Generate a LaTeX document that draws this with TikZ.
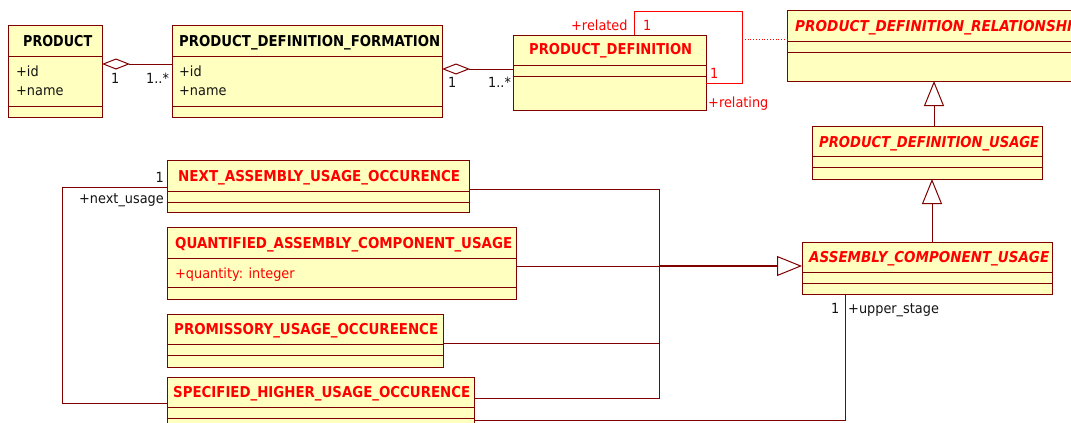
\documentclass[tikz,border=0pt]{standalone}
\usepackage{graphicx}
\usepackage{fontspec}
\setmainfont{DejaVu Sans}
\newfontfamily\umlf[FakeStretch=0.92]{DejaVu Sans}
\usetikzlibrary{arrows.meta}
\definecolor{umlbd}{RGB}{128,0,0}
\definecolor{umlfill}{RGB}{255,255,192}
\definecolor{umlred}{RGB}{255,0,0}
\definecolor{umltxt}{RGB}{20,20,20}
\newcommand\ttlbox[2]{\resizebox{#1}{\height}{#2}}
\newcommand\clsdiv[2]{\draw[divline] ([yshift=-#2 pt]#1.north west) -- ([yshift=-#2 pt]#1.north east);}
\tikzset{
 cls/.style={draw=umlbd, fill=umlfill, line width=1pt, inner sep=0pt, outer sep=0pt, anchor=north west},
 divline/.style={draw=umlbd, line width=0.9pt},
 ln/.style={draw=umlbd, line width=0.9pt},
 ttl/.style={inner sep=0pt, anchor=base west, font=\umlf\fontsize{15}{18}\selectfont\bfseries, text=umlred},
 lbl/.style={inner sep=0pt, anchor=base west, font=\umlf\fontsize{14}{16}\selectfont, text=umltxt},
 agg/.style={ln, {Diamond[open, length=28pt, width=11pt, line width=1pt]}-},
 gen/.style={ln, -{Triangle[open, length=25pt, width=20pt, line width=1pt]}},
 rln/.style={draw=umlred, line width=0.8pt},
}
\begin{document}
\begin{tikzpicture}[x=1pt, y=-1pt]
\useasboundingbox (0,0) rectangle (1071,423);
\clip (0,0) rectangle (1071,423);
\fill[white] (0,0) rectangle (1071,423);

% ---- classes ----
\node[cls, minimum width=94pt, minimum height=92pt] (prod) at (8,25) {};
\clsdiv{prod}{31}\clsdiv{prod}{81}
\node[cls, minimum width=270pt, minimum height=92pt] (pdf) at (172,25) {};
\clsdiv{pdf}{31}\clsdiv{pdf}{81}
\node[cls, minimum width=193pt, minimum height=75pt] (pd) at (513,35) {};
\clsdiv{pd}{30}\clsdiv{pd}{41}
\node[cls, minimum width=300pt, minimum height=71pt] (pdr) at (787,10) {};
\clsdiv{pdr}{31}\clsdiv{pdr}{42}
\node[cls, minimum width=230pt, minimum height=53pt] (pdu) at (812,126) {};
\clsdiv{pdu}{30}\clsdiv{pdu}{41}
\node[cls, minimum width=250pt, minimum height=52pt] (acu) at (802,242) {};
\clsdiv{acu}{30}\clsdiv{acu}{41}
\node[cls, minimum width=302pt, minimum height=52pt] (nauo) at (167,160) {};
\clsdiv{nauo}{31}\clsdiv{nauo}{42}
\node[cls, minimum width=349pt, minimum height=72pt] (qacu) at (167,227) {};
\clsdiv{qacu}{31}\clsdiv{qacu}{60}
\node[cls, minimum width=276pt, minimum height=53pt] (puo) at (167,314) {};
\clsdiv{puo}{30}\clsdiv{puo}{41}
\node[cls, minimum width=307pt, minimum height=60pt] (shuo) at (167,377) {};
\clsdiv{shuo}{30}\clsdiv{shuo}{41}

% ---- titles ----
\node[ttl, text=black] (prodT) at (23,46) {\ttlbox{69pt}{PRODUCT}};
\node[ttl, text=black] (pdfT) at (179,46) {\ttlbox{261pt}{PRODUCT\_DEFINITION\_FORMATION}};
\node[ttl] (pdT) at (529,54.5) {\ttlbox{163pt}{PRODUCT\_DEFINITION}};
\node[ttl, font=\umlf\fontsize{15}{18}\selectfont\bfseries\itshape] (pdrT) at (795,31) {\ttlbox{287pt}{PRODUCT\_DEFINITION\_RELATIONSHIP}};
\node[ttl, font=\umlf\fontsize{15}{18}\selectfont\bfseries\itshape] (pduT) at (819,147) {\ttlbox{220pt}{PRODUCT\_DEFINITION\_USAGE}};
\node[ttl, font=\umlf\fontsize{15}{18}\selectfont\bfseries\itshape] (acuT) at (809,262) {\ttlbox{240pt}{ASSEMBLY\_COMPONENT\_USAGE}};
\node[ttl] (nauoT) at (178,181) {\ttlbox{282pt}{NEXT\_ASSEMBLY\_USAGE\_OCCURENCE}};
\node[ttl] (qacuT) at (175,248) {\ttlbox{337pt}{QUANTIFIED\_ASSEMBLY\_COMPONENT\_USAGE}};
\node[ttl] (puoT) at (174,334) {\ttlbox{264pt}{PROMISSORY\_USAGE\_OCCUREENCE}};
\node[ttl] (shuoT) at (173,397) {\ttlbox{297pt}{SPECIFIED\_HIGHER\_USAGE\_OCCURENCE}};

% ---- attributes ----
\node[lbl] (prodA1) at (16,76) {+id};
\node[lbl] (prodA2) at (16,95) {+name};
\node[lbl] (pdfA1) at (179,76) {+id};
\node[lbl] (pdfA2) at (179,95) {+name};
\node[lbl, text=umlred] (qacuA1) at (175,278) {+quantity: integer};

% ---- connectors ----
\draw[agg] ([yshift=-39pt]prod.north east) -- ([yshift=-39pt]pdf.north west);
\draw[agg] ([yshift=-44pt]pdf.north east) -- ([yshift=-34pt]pd.north west);
\node[lbl] (m1) at (111,83) {1};
\node[lbl] (m2) at (146,83) {1..*};
\node[lbl] (m3) at (448,87) {1};
\node[lbl] (m4) at (488,87) {1..*};

\coordinate (loopTR) at (742,11);
\coordinate (loopD) at (742,39);
\draw[rln] ([xshift=121pt]pd.north west) |- (loopTR) |- ([yshift=-48pt]pd.north east);
\draw[rln, dotted] (loopD) -- (pdr.west |- loopD);
\node[lbl, text=umlred] (rel1) at (571,30) {+related};
\node[lbl, text=umlred] (rel2) at (643,30) {1};
\node[lbl, text=umlred] (rel3) at (710,78) {1};
\node[lbl, text=umlred] (rel4) at (708,107) {+relating};

\draw[gen] ([xshift=122pt]pdu.north west) -- ([xshift=147pt]pdr.south west);
\draw[gen] ([xshift=130pt]acu.north west) -- ([xshift=120pt]pdu.south west);

\coordinate (bus) at (659,266);
\draw[ln] ([yshift=-29pt]nauo.north east) -| (bus);
\draw[ln] ([yshift=-29pt]puo.north east) -| (bus);
\draw[ln] ([yshift=-21pt]shuo.north east) -| (bus);
\draw[ln, line width=1.5pt] (bus) -- ([xshift=-25pt, yshift=-24pt]acu.north west);
\draw[gen] ([yshift=-39pt]qacu.north east) -- ([yshift=-24pt]acu.north west);

\coordinate (nuTop) at (62,187);
\coordinate (nuBot) at (62,403);
\draw[ln] ([yshift=-27pt]nauo.north west) -- (nuTop) -- (nuBot) -- ([yshift=-26pt]shuo.north west);
\node[lbl, anchor=base east] (nu1) at (164,182) {1};
\node[lbl, anchor=base east] (nu2) at (164,203) {+next\_usage};

\coordinate (usC) at (845,420);
\draw[ln] ([yshift=-43pt]shuo.north east) -- (usC) -- ([xshift=43pt]acu.south west);
\node[lbl] (us1) at (831,313) {1};
\node[lbl] (us2) at (848,313) {+upper\_stage};
\end{tikzpicture}
\end{document}
